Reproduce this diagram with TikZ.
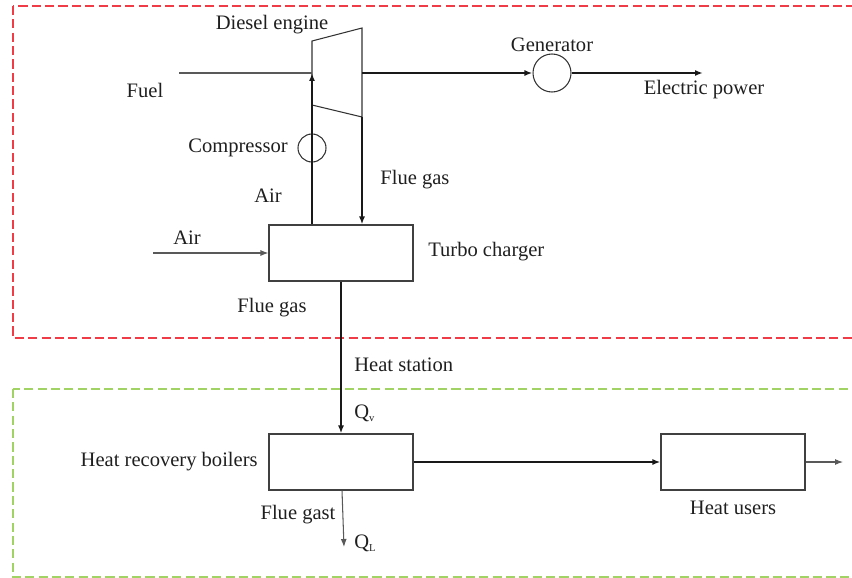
\documentclass[tikz,border=0pt]{standalone}
\usepackage{fontspec}
\setmainfont{Liberation Serif}
\usepackage{tikz}
\usetikzlibrary{arrows.meta}

\definecolor{zonered}{RGB}{240,60,70}
\definecolor{zonegreen}{RGB}{160,210,100}

\begin{document}
\begin{tikzpicture}[x=0.02cm, y=-0.02cm, every node/.style={font=\fontsize{11.7}{14}\selectfont, text=black!88}, >={Latex[length=1.6mm,width=1.2mm]}]
	\useasboundingbox (0,0) rectangle (852,578);
	\clip (0,0) rectangle (852,578);
	\tikzset{zone/.style={dash pattern=on 5.2pt off 2.4pt, line width=0.85pt},
		unit/.style={draw=black!75, line width=0.6pt, rectangle, minimum width=144*0.02cm, minimum height=56*0.02cm, inner sep=0pt},
		flow/.style={black!90, line width=1.1pt},
		feed/.style={black!65, line width=0.6pt}}
	% zones
	\draw[zone, zonered] (13,6) rectangle (870,338);
	\draw[zone, zonegreen] (13,389) rectangle (870,577);
	% diesel engine and shaft
	\coordinate (engTL) at (312,41); \coordinate (engTR) at (362,28);
	\coordinate (engBR) at (362,117); \coordinate (engBL) at (312,105);
	\draw[black!80, line width=0.6pt] (engBL) -- (engTL) -- (engTR) -- (engBR) -- cycle;
	\coordinate (fuelin) at (179,73); \coordinate (fuelj) at (312,73);
	\coordinate (shaft) at (362,73);
	\node[draw=black!80, line width=0.6pt, circle, minimum size=38*0.02cm, inner sep=0pt] (gen) at (552,73) {};
	\node[draw=black!80, line width=0.6pt, circle, minimum size=28*0.02cm, inner sep=0pt] (comp) at (312,148) {};
	\coordinate (power) at (703,73);
	% units
	\node[unit] (turbo) at (341,253) {};
	\node[unit] (boiler) at (341,462) {};
	\node[unit] (users) at (733,462) {};
	\coordinate (airin) at (153,253);
	\coordinate (gasout) at (344,547);
	\coordinate (hotout) at (843,462);
	% connections
	\draw[feed] (fuelin) -- (fuelj);
	\draw[flow, ->] (turbo.north -| comp) -- (fuelj);
	\draw[flow, ->] (engBR) -- (turbo.north -| engBR);
	\draw[flow, ->] (shaft) -- (gen.west);
	\draw[flow, ->] (gen.east) -- (power);
	\draw[feed, ->] (airin) -- (turbo.west);
	\draw[flow, ->] (turbo.south) -- (boiler.north);
	\draw[flow, ->] (boiler.east) -- (users.west);
	\draw[feed, ->] (users.east) -- (hotout);
	\draw[feed, ->] ([xshift=1*0.02cm]boiler.south) -- (gasout);
	% labels
	\node (lengine) at (272,25) {Diesel engine};
	\node (lfuel) at (145,90) {Fuel};
	\node[anchor=east, inner sep=0pt] (lcomp) at (288,148) {Compressor};
	\node (lair1) at (268,196) {Air};
	\node[anchor=west, inner sep=0pt] (lflue1) at (380,180) {Flue gas};
	\node (lgen) at (552,45) {Generator};
	\node (lpower) at (704,90) {Electric power};
	\node[anchor=west, inner sep=0pt] (lturbo) at (428,252) {Turbo charger};
	\node (lair2) at (187,238) {Air};
	\node (lflue2) at (272,308) {Flue gas};
	\node[anchor=west, inner sep=0pt] (lstation) at (354,365) {Heat station};
	\node[anchor=west, inner sep=0pt] (lqv) at (354,413) {Q\textsubscript{\fontsize{6}{7}\selectfont v}};
	\node[anchor=east, inner sep=0pt] (lboiler) at (258,462) {Heat recovery boilers};
	\node (lflue3) at (298,515) {Flue gast};
	\node[anchor=west, inner sep=0pt] (lql) at (354,543) {Q\textsubscript{\fontsize{6}{7}\selectfont L}};
	\node (lusers) at (733,508) {Heat users};
\end{tikzpicture}
\end{document}
